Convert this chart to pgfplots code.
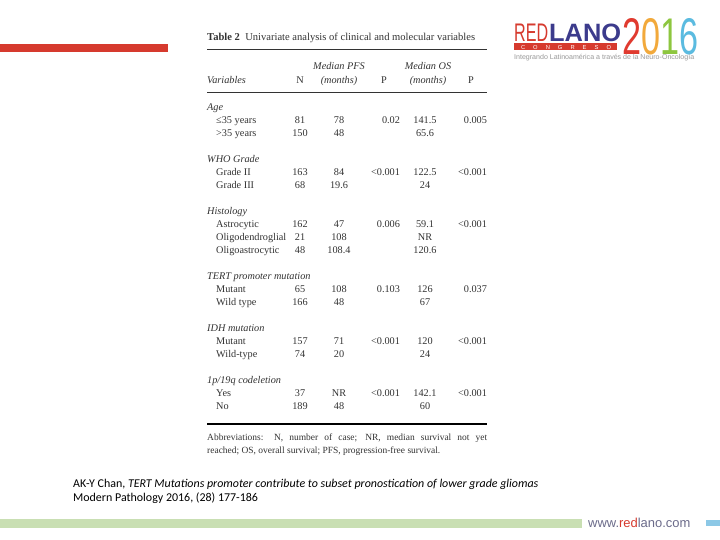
\documentclass[border=0pt]{standalone}
\usepackage{pgfplots}
\usepackage{pgfplotstable}
\pgfplotsset{compat=1.18}
\usepackage{fontspec}
\setmainfont{Liberation Serif}
\newfontfamily\footfont{Carlito}
\newfontfamily\logofont{Liberation Sans}

\definecolor{barred}{HTML}{D63A2E}
\definecolor{lanoblue}{HTML}{3C3B8C}
\definecolor{c2}{HTML}{E03A2F}
\definecolor{c0}{HTML}{F2A93B}
\definecolor{c1}{HTML}{8DC63F}
\definecolor{c6}{HTML}{5BBBE0}
\definecolor{greenbar}{HTML}{C9DFB3}
\definecolor{bluebar}{HTML}{8CC8E6}
\definecolor{urlgrey}{HTML}{6B6B8A}
\definecolor{txt}{HTML}{333333}

\tikzset{lab/.style={anchor=west, inner sep=0pt, text height=7bp, text depth=2bp,
        font=\fontsize{10.3}{12}\selectfont, color=txt}}

% N, median PFS, median OS per row (y = row position on the slide)
\pgfplotstableread[col sep=comma]{
y,N,pfs,os
121,81,78,141.5
134,150,48,65.6
173,163,84,122.5
186,68,19.6,24
225,162,47,59.1
238,21,108,NR
251,48,108.4,120.6
290,65,108,126
303,166,48,67
342,157,71,120
355,74,20,24
394,37,NR,142.1
407,189,48,60
}\tblmain

% P values
\pgfplotstableread[col sep=comma]{
y,p1,p2
121,0.02,0.005
173,<0.001,<0.001
225,0.006,<0.001
290,0.103,0.037
342,<0.001,<0.001
394,<0.001,<0.001
}\tblp

\begin{document}
\begin{tikzpicture}
\begin{axis}[
    scale only axis,
    width=720bp, height=540bp,
    xmin=0, xmax=720, ymin=0, ymax=540,
    y dir=reverse,
    hide axis,
    clip=false,
    cell/.style={draw=none, mark=none, nodes near coords,
        point meta=explicit symbolic,
        nodes near coords align={center},
        every node near coord/.append style={font=\fontsize{10.3}{12}\selectfont,
            color=txt, inner sep=0pt, text height=7bp, text depth=2bp,
            text width=40bp, align=#1}},
]
\fill[white] (axis cs:0,0) rectangle (axis cs:720,540);

% left red bar
\fill[barred] (axis cs:0,44) rectangle (axis cs:168,52);

% title and rules
\node[lab, font=\fontsize{10.6}{12}\selectfont] at (axis cs:207,38)
    {\textbf{Table 2}\ \ Univariate analysis of clinical and molecular variables};
\draw[txt, line width=0.7bp] (axis cs:207,49) -- (axis cs:487,49);
\draw[txt, line width=0.7bp] (axis cs:207,92) -- (axis cs:487,92);
\draw[black, line width=1.6bp] (axis cs:207,424) -- (axis cs:487,424);

% header
\node[lab, anchor=center] at (axis cs:339,67) {\itshape Median PFS};
\node[lab, anchor=center] at (axis cs:339,81) {\itshape (months)};
\node[lab, anchor=center] at (axis cs:428,67) {\itshape Median OS};
\node[lab, anchor=center] at (axis cs:428,81) {\itshape (months)};
\node[lab] at (axis cs:207,81) {\itshape Variables};
\node[lab, anchor=center] at (axis cs:300,81) {N};
\node[lab, anchor=center] at (axis cs:384,81) {P};
\node[lab, anchor=center] at (axis cs:471,81) {P};

% group headings
\node[lab] at (axis cs:207,108) {\itshape Age};
\node[lab] at (axis cs:207,160) {\itshape WHO Grade};
\node[lab] at (axis cs:207,212) {\itshape Histology};
\node[lab] at (axis cs:207,277) {\itshape TERT promoter mutation};
\node[lab] at (axis cs:207,329) {\itshape IDH mutation};
\node[lab] at (axis cs:207,381) {\itshape 1p/19q codeletion};

% row labels
\node[lab] at (axis cs:216,121) {≤35 years};
\node[lab] at (axis cs:216,134) {>35 years};
\node[lab] at (axis cs:216,173) {Grade II};
\node[lab] at (axis cs:216,186) {Grade III};
\node[lab] at (axis cs:216,225) {Astrocytic};
\node[lab] at (axis cs:216,238) {Oligodendroglial};
\node[lab] at (axis cs:216,251) {Oligoastrocytic};
\node[lab] at (axis cs:216,290) {Mutant};
\node[lab] at (axis cs:216,303) {Wild type};
\node[lab] at (axis cs:216,342) {Mutant};
\node[lab] at (axis cs:216,355) {Wild-type};
\node[lab] at (axis cs:216,394) {Yes};
\node[lab] at (axis cs:216,407) {No};

% values
\addplot[cell=center] table[x expr=300, y=y, meta=N] {\tblmain};
\addplot[cell=center] table[x expr=339, y=y, meta=pfs] {\tblmain};
\addplot[cell=center] table[x expr=425, y=y, meta=os] {\tblmain};
\addplot[cell=right] table[x expr=380, y=y, meta=p1] {\tblp};
\addplot[cell=right] table[x expr=467, y=y, meta=p2] {\tblp};

% abbreviations
\node[lab, font=\fontsize{9.5}{12}\selectfont] at (axis cs:207,438)
    {\makebox[280bp][s]{Abbreviations: N, number of case; NR, median survival not yet}};
\node[lab, font=\fontsize{9.5}{12}\selectfont] at (axis cs:207,451)
    {reached; OS, overall survival; PFS, progression-free survival.};

% reference
\node[anchor=west, inner sep=0pt, font=\footfont\fontsize{12}{14}\selectfont] at (axis cs:73,484)
    {AK-Y Chan, \textit{TERT Mutations promoter contribute to subset pronostication of lower grade gliomas}};
\node[anchor=west, inner sep=0pt, font=\footfont\fontsize{12}{14}\selectfont] at (axis cs:73,498)
    {Modern Pathology 2016, (28) 177-186};

% bottom bars
\fill[greenbar] (axis cs:0,519) rectangle (axis cs:582,528);
\fill[bluebar] (axis cs:706,520) rectangle (axis cs:720,526);
\node[anchor=west, inner sep=0pt, font=\logofont\fontsize{13}{14}\selectfont, color=urlgrey]
    at (axis cs:588,523) {www.\textcolor{barred}{red}lano.com};

% logo
\node[anchor=south west, inner sep=0pt, color=barred]
    at (axis cs:514,41.5) {\resizebox{34bp}{17.5bp}{\logofont RED}};
\node[anchor=south west, inner sep=0pt, color=lanoblue]
    at (axis cs:549,41.5) {\resizebox{72bp}{17.5bp}{\logofont\bfseries LANO}};
\node[anchor=south west, inner sep=0pt]
    at (axis cs:622,55) {\resizebox{76bp}{36bp}{\logofont\textcolor{c2}{2}\textcolor{c0}{0}\textcolor{c1}{1}\textcolor{c6}{6}}};
\fill[barred] (axis cs:514,43.5) rectangle (axis cs:617,50.5);
\node[inner sep=0pt, text width=90bp, font=\logofont\fontsize{5.8}{6}\selectfont, color=white]
    at (axis cs:566,47.2) {C\hfill O\hfill N\hfill G\hfill R\hfill E\hfill S\hfill O};
\node[anchor=west, inner sep=0pt, color=gray!80]
    at (axis cs:514,58) {\resizebox{180bp}{!}{\logofont Integrando Latinoamérica a través de la Neuro-Oncología}};
\end{axis}
\end{tikzpicture}
\end{document}
